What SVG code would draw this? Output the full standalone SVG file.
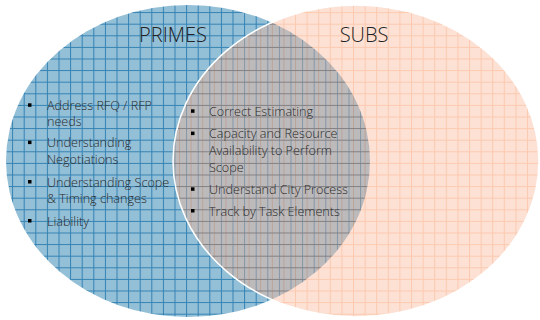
<svg xmlns="http://www.w3.org/2000/svg" width="540" height="320" viewBox="0 0 540 320">
  <defs>
    <pattern id="gridBlue" patternUnits="userSpaceOnUse" x="0.5" y="0.5" width="11.6" height="11.6">
      <rect width="11.6" height="11.6" fill="#93bfd7"/>
      <path d="M0 0.5H11.6M0.5 0V11.6" stroke="#3482b3" stroke-width="1" fill="none"/>
    </pattern>
    <pattern id="gridPink" patternUnits="userSpaceOnUse" x="5" y="0.5" width="11.6" height="11.6">
      <rect width="11.6" height="11.6" fill="#fbb394"/>
      <path d="M0 0.5H11.6M0.5 0V11.6" stroke="#f77a38" stroke-width="1" fill="none"/>
    </pattern>
    <style>
      .title { font-family: "Open Sans", "Noto Sans", "Liberation Sans", sans-serif; font-weight: 300; font-size: 20px; fill: #222; text-anchor: middle; }
      .item { font-family: "Open Sans", "Noto Sans", "Liberation Sans", sans-serif; font-weight: 300; font-size: 12.6px; fill: #2a2a2a; }
      .bullet { fill: #000; }
    </style>
  </defs>

  <g id="primes">
    <ellipse cx="188" cy="161" rx="182" ry="156" fill="url(#gridBlue)"/>
    <text class="title" x="173" y="42">PRIMES</text>
  </g>

  <g id="subs">
    <ellipse cx="356" cy="161" rx="183" ry="156" fill="url(#gridPink)" opacity="0.4"/>
    <ellipse cx="356" cy="161" rx="183" ry="156" fill="none" stroke="#ffffff" stroke-width="1.5"/>
    <text class="title" x="364" y="42">SUBS</text>
  </g>

  <g id="primes-list">
    <rect class="bullet" x="28" y="103.3" width="3.5" height="3.5"/>
    <text class="item" x="47" y="110">Address RFQ / RFP</text>
    <text class="item" x="47" y="126">needs</text>
    <rect class="bullet" x="28" y="140.6" width="3.5" height="3.5"/>
    <text class="item" x="47" y="147.3">Understanding</text>
    <text class="item" x="47" y="164">Negotiations</text>
    <rect class="bullet" x="28" y="180" width="3.5" height="3.5"/>
    <text class="item" x="47" y="186.7">Understanding Scope</text>
    <text class="item" x="47" y="203.3">&amp; Timing changes</text>
    <rect class="bullet" x="28" y="219" width="3.5" height="3.5"/>
    <text class="item" x="47" y="225.7">Liability</text>
  </g>

  <g id="shared-list">
    <rect class="bullet" x="191" y="109.3" width="3.5" height="3.5"/>
    <text class="item" x="209" y="116">Correct Estimating</text>
    <rect class="bullet" x="191" y="131.6" width="3.5" height="3.5"/>
    <text class="item" x="209" y="138.3">Capacity and Resource</text>
    <text class="item" x="209" y="155">Availability to Perform</text>
    <text class="item" x="209" y="171.7">Scope</text>
    <rect class="bullet" x="191" y="187.3" width="3.5" height="3.5"/>
    <text class="item" x="209" y="194">Understand City Process</text>
    <rect class="bullet" x="191" y="209" width="3.5" height="3.5"/>
    <text class="item" x="209" y="215.7">Track by Task Elements</text>
  </g>
</svg>
